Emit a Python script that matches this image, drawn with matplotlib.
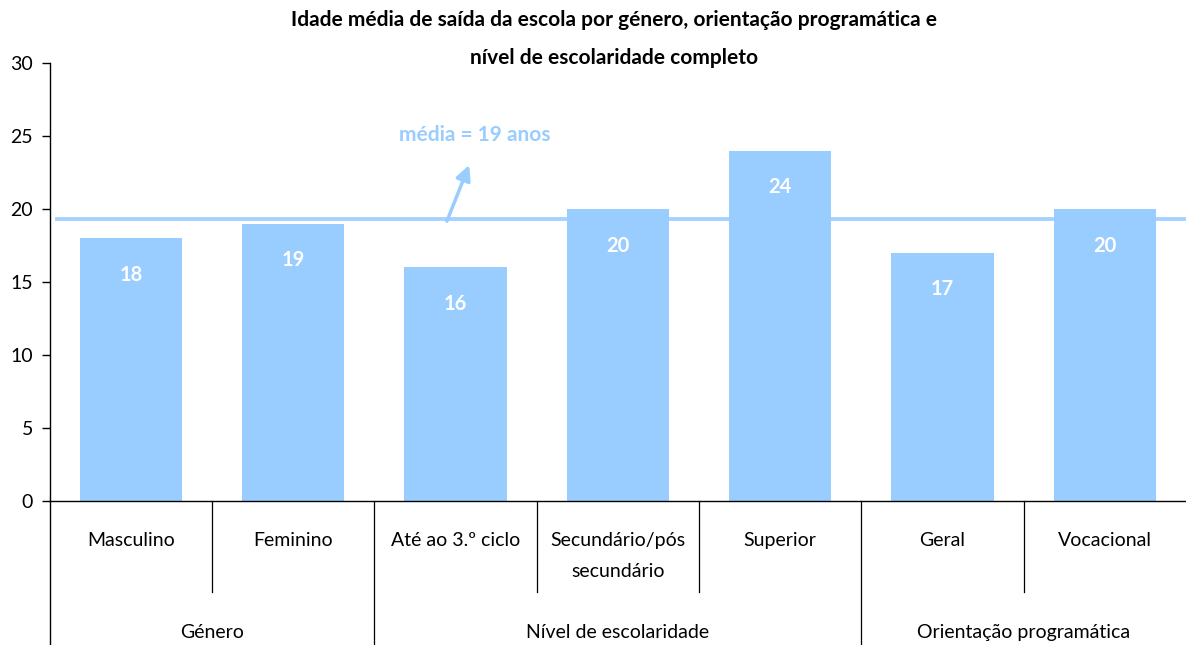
import matplotlib
matplotlib.use("Agg")
import matplotlib.pyplot as plt
import matplotlib.transforms as mtransforms

plt.rcParams['font.family'] = ['Lato', 'DejaVu Sans']

categories = ["Masculino", "Feminino", "Até ao 3.º ciclo", "Secundário/pós\nsecundário",
              "Superior", "Geral", "Vocacional"]
values = [18, 19, 16, 20, 24, 17, 20]
groups = ["Género", "Nível de escolaridade", "Orientação programática"]
group_sizes = [2, 3, 2]
mean_value = 19.3
mean_label = "média = 19 anos"
title = "Idade média de saída da escola por género, orientação programática e\nnível de escolaridade completo"

bar_color = "#99CCFF"

fig = plt.figure(figsize=(11.86, 6.45), dpi=100)
ax = fig.add_axes([0.042, 0.2233, 0.958, 0.6787])

x = list(range(len(categories)))
ax.axhline(mean_value, xmin=0.006, xmax=1.0, color="#A6D2FF", lw=2.8, zorder=1)
ax.bar(x, values, width=0.63, color=bar_color, zorder=2)
for xi, v in zip(x, values):
    ax.text(xi, v - 2.5, f"{v:d}", ha="center", va="center",
            color="white", fontsize=14.5, fontweight="bold", zorder=3)

ax.set_xlim(-0.5, len(categories) - 0.5)
ax.set_ylim(0, 30)
ax.set_yticks([0, 5, 10, 15, 20, 25, 30])
ax.tick_params(axis="y", labelsize=14, length=6, width=1, pad=6)
ax.set_xticks([])
for s in ["top", "right"]:
    ax.spines[s].set_visible(False)
ax.spines["left"].set_linewidth(1)
ax.spines["bottom"].set_linewidth(1)

# annotation arrow and label
ax.annotate("", xy=(2.09, 23.2), xytext=(1.94, 19.0),
            arrowprops=dict(arrowstyle="-|>,head_length=0.9,head_width=0.45", color="#99CCFF", lw=2.5),
            zorder=4)
ax.text(2.12, 25.1, mean_label, ha="center", va="center", color="#99CCFF",
        fontsize=15, fontweight="bold")

# category axis (multi-level)
trans = mtransforms.blended_transform_factory(ax.transData, ax.transAxes)
for xi, c in zip(x, categories):
    ax.text(xi, -0.072, c, transform=trans, ha="center", va="top", fontsize=14,
            linespacing=1.95, clip_on=False)
bounds = [0]
for g in group_sizes:
    bounds.append(bounds[-1] + g)
for i in range(1, len(categories)):
    b = i - 0.5
    if i in bounds:
        ax.plot([b, b], [0, -0.33], transform=trans, color="black", lw=0.9, clip_on=False)
    else:
        ax.plot([b, b], [0, -0.208], transform=trans, color="black", lw=0.9, clip_on=False)
ax.plot([-0.5, -0.5], [0, -0.33], transform=trans, color="black", lw=1, clip_on=False)
for gi, g in enumerate(groups):
    center = (bounds[gi] + bounds[gi + 1]) / 2 - 0.5
    ax.text(center, -0.301, g, transform=trans, ha="center", va="center", fontsize=14,
            clip_on=False)

fig.text(0.518, 0.940, title, ha="center", va="center", fontsize=15, fontweight="bold",
         linespacing=2.1)

fig.savefig("out.png", dpi=100)
